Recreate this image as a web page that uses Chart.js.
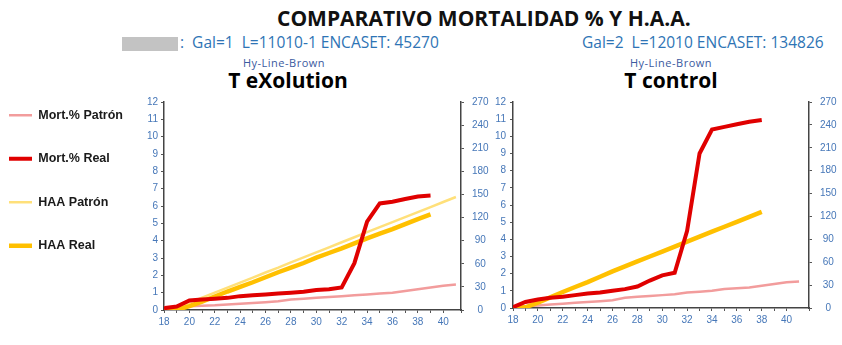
<!DOCTYPE html>
<html>
<head>
<meta charset="utf-8">
<script src="https://cdn.jsdelivr.net/npm/chart.js@4"></script>
<style>
body{margin:0;width:842px;height:345px;background:#fff;position:relative;overflow:hidden;font-family:"Open Sans",sans-serif}
.t{position:absolute;white-space:nowrap;line-height:1}
#titulo{left:277px;top:8px;font-size:21px;font-weight:bold;color:#111}
#gris{position:absolute;left:122px;top:37px;width:56px;height:14px;background:#c3c3c3}
.info{font-size:15.5px;color:#2e74b5;top:35px}
.raza{font-size:11px;letter-spacing:.5px;color:#3b5aa0;top:57px;text-align:center;width:160px}
.nombre{font-size:21px;font-weight:bold;color:#000;top:70px;text-align:center;width:200px}
canvas{position:absolute}
</style>
</head>
<body>
<div id="titulo" class="t">COMPARATIVO MORTALIDAD % Y H.A.A.</div>
<div id="gris"></div>
<div class="t info" style="left:180px">:&nbsp; Gal=1&nbsp; L=11010-1 ENCASET: 45270</div>
<div class="t info" style="left:582px">Gal=2&nbsp; L=12010 ENCASET: 134826</div>
<div class="t raza" style="left:204px">Hy-Line-Brown</div>
<div class="t raza" style="left:591px">Hy-Line-Brown</div>
<div class="t nombre" style="left:188px">T eXolution</div>
<div class="t nombre" style="left:571px">T control</div>
<div style="position:absolute;left:-22px;top:66px;width:517px;height:279px"><canvas id="gA"></canvas></div>
<div style="position:absolute;left:480px;top:66px;width:362px;height:279px"><canvas id="gB"></canvas></div>
<script>
// ====== DATOS ======
const semanas=[18,19,20,21,22,23,24,25,26,27,28,29,30,31,32,33,34,35,36,37,38,39,40,41];
const series=["Mort.% Patrón","Mort.% Real","HAA Patrón","HAA Real"];

// T eXolution (Gal=1)
const mortPatronA=[0.18,0.2,0.22,0.25,0.27,0.32,0.36,0.4,0.45,0.5,0.6,0.65,0.7,0.75,0.8,0.85,0.9,0.95,1.0,1.1,1.2,1.3,1.4,1.47];
const mortRealA=[0.1,0.2,0.55,0.6,0.65,0.7,0.8,0.85,0.9,0.95,1.0,1.05,1.15,1.2,1.3,2.7,5.1,6.15,6.25,6.4,6.55,6.6];
const haaPatronA=[0,3,9.5,16,22.6,29,35.6,42,48.7,55,61.8,68.3,74.8,81.4,87.9,94.4,101,107.5,114,120.6,127,133.6,140.2,146.7];
const haaRealA=[0,0,5,11,17.5,24,30,36,42.5,49,55,61,68,74,80,86.5,93,99,105,111.5,118,124];

// T control (Gal=2)
const mortPatronB=[0.05,0.1,0.15,0.2,0.25,0.3,0.35,0.4,0.45,0.6,0.65,0.7,0.75,0.8,0.9,0.95,1.0,1.1,1.15,1.2,1.3,1.4,1.5,1.55];
const mortRealB=[0.05,0.35,0.5,0.6,0.65,0.75,0.85,0.9,1.0,1.1,1.25,1.6,1.9,2.05,4.5,9.0,10.4,10.55,10.7,10.85,10.95];
const haaRealB=[0,1,7,14,21,27.5,34,41,48,54.5,61,67.5,74,80.5,87,93.5,100,106.5,113,119.5,126];

// ====== ESTILO ======
const colores=["#f29c9c","#e00000","#ffe07a","#ffc000"];
const grosor=[2.5,4,2.5,4.5];
const orden=[3,0,2,1];
const azul="#4677b8";
const fuenteEje={family:"Liberation Sans",size:10};

const puntos=arr=>arr.map((v,i)=>({x:semanas[i],y:v}));

function serie(i,arr){
 return {
  label:series[i],data:puntos(arr),
  borderColor:colores[i],backgroundColor:colores[i],
  borderWidth:grosor[i],pointRadius:0,tension:0,order:orden[i],
  xAxisID:"x",yAxisID:i>=2?"y2":"y"
 };
}

function opciones(cfg){
 const escalas={
  x:{type:"linear",min:18,max:cfg.xmax,
     grid:{drawOnChartArea:false,tickLength:3,color:"#555"},
     border:{color:"#444",width:1.5},
     ticks:{stepSize:1,autoSkip:false,padding:3,color:azul,font:fuenteEje,maxRotation:0,
            callback:v=>(v%2===0?v:"")},
     afterFit:s=>{s.height=25;}},
  y:{position:"left",min:0,max:12,
     grid:{drawOnChartArea:false,tickLength:3,color:"#555"},
     border:{color:"#444",width:1.5},
     ticks:{stepSize:1,padding:cfg.pl,color:azul,font:fuenteEje},
     afterFit:cfg.yFit},
  y2:{position:"right",min:0,max:270,
     grid:{drawOnChartArea:false,tickLength:3,color:"#555"},
     border:{color:"#444",width:1.5},
     ticks:{stepSize:30,padding:8,crossAlign:"center",color:azul,font:fuenteEje},
     afterFit:s=>{s.width=cfg.wr;}}
 };
 if(cfg.arriba){
  escalas.arriba={type:"linear",axis:"x",position:"top",display:true,
   grid:{display:false,drawTicks:false},border:{display:false},ticks:{display:false},
   afterFit:s=>{s.height=24;}};
 }
 return {
  responsive:true,maintainAspectRatio:false,animation:false,
  layout:{padding:{top:cfg.pt,bottom:cfg.pb,left:0,right:0}},
  plugins:{
   legend:cfg.leyenda?{
     display:true,position:"left",align:"start",maxWidth:180,
     labels:{usePointStyle:true,pointStyle:"line",pointStyleWidth:23,padding:31,
       color:"#1a1a1a",font:{family:"Liberation Sans",size:12.5,weight:"bold"},
       sort:(a,b)=>a.datasetIndex-b.datasetIndex}
   }:{display:false},
   tooltip:{enabled:false}
  },
  scales:escalas
 };
}

new Chart(document.getElementById("gA"),{
 type:"line",
 data:{datasets:[serie(0,mortPatronA),serie(1,mortRealA),serie(2,haaPatronA),serie(3,haaRealA)]},
 options:opciones({xmax:41.4,pl:3,wr:34,pt:12,pb:10,arriba:true,leyenda:true,
   yFit:s=>{s.width=Math.max(186-s.chart.legend.width,8);}})
});

new Chart(document.getElementById("gB"),{
 type:"line",
 data:{datasets:[serie(0,mortPatronB),serie(1,mortRealB),serie(3,haaRealB)]},
 options:opciones({xmax:41.8,pl:4,wr:33,pt:36,pb:12,arriba:false,leyenda:false,
   yFit:s=>{s.width=33;}})
});
</script>
</body>
</html>
